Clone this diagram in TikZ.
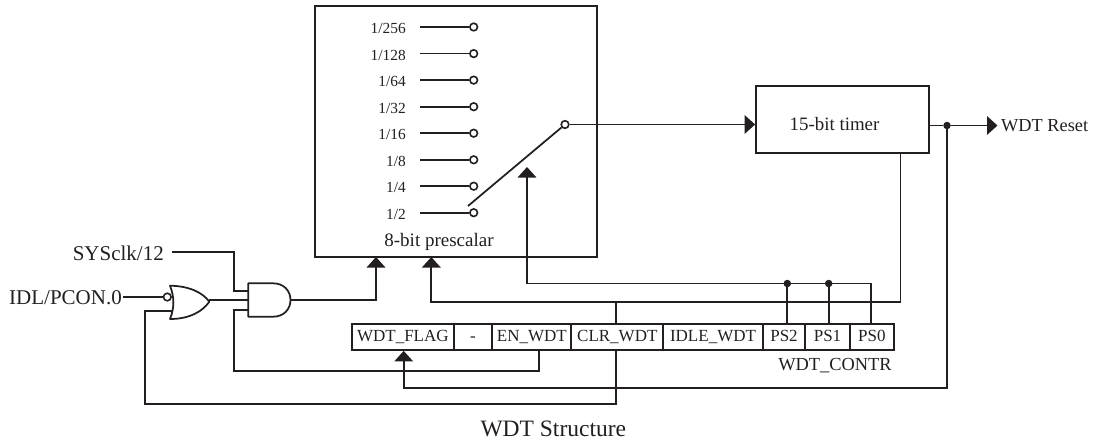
\documentclass[tikz,border=0pt]{standalone}
\usepackage{fontspec}
\setmainfont{Liberation Serif}
\usetikzlibrary{arrows.meta,calc}
\definecolor{ink}{HTML}{231F20}
\tikzset{
  wire/.style={draw=ink,line width=1.75pt,line join=miter},
  arrowwire/.style={wire,-{Triangle[width=18.5pt,length=10.5pt,fill=ink]}},
  boxframe/.style={draw=ink,line width=1.75pt,inner sep=0pt},
  cell/.style={draw=ink,line width=1.75pt,inner sep=0pt,minimum height=26pt,text height=9.4pt,text depth=0pt,text=ink,font=\fontsize{17}{17}\selectfont},
  lab/.style={anchor=base,text=ink,inner sep=0pt},
  ratio/.style={anchor=base east,text=ink,inner sep=0pt,font=\fontsize{15.4}{16}\selectfont},
  openpin/.style={circle,draw=ink,line width=1.6pt,fill=white,minimum size=7.6pt,inner sep=0pt},
  dotpin/.style={circle,fill=ink,minimum size=7.5pt,inner sep=0pt},
}
\begin{document}
\begin{tikzpicture}[x=1pt,y=-1pt]
\useasboundingbox (0,0) rectangle (1097,440);
% prescaler and timer
\node[boxframe,minimum width=282pt,minimum height=251pt] (pre) at (456,131.5) {};
\node[boxframe,minimum width=173pt,minimum height=67pt] (timer) at (842.5,119.5) {};
\node[lab,font=\fontsize{19}{20}\selectfont] (prelab) at (439,246.7) {8-bit prescalar};
\node[lab,font=\fontsize{18.9}{20}\selectfont] (timerlab) at (834.5,130.7) {15-bit timer};
% ratio rows
\foreach \n/\t/\y in {a/1\slash 256/27,b/1\slash 128/53.6,c/1\slash 64/80.1,d/1\slash 32/106.7,e/1\slash 16/133.2,f/1\slash 8/159.8,g/1\slash 4/186.2,h/1\slash 2/212.7}{
  \node[ratio] (r\n) at (406,\y+6.5) {\t};
  \coordinate (s\n) at (420,\y);
  \node[openpin] (p\n) at (473.7,\y) {};
  \draw[wire] (s\n) -- (p\n);
}
% switch
\node[openpin] (swout) at (565,124.5) {};
\coordinate (swin) at (468,206);
\draw[wire] (swin) -- (swout);
\draw[arrowwire] (swout) -- (timer.west |- swout);
% output
\node[dotpin] (j) at (947,125.5) {};
\node[lab,anchor=base west,font=\fontsize{18.3}{20}\selectfont] (resetlab) at (1001,131) {WDT Reset};
\coordinate (resetend) at (997.5,125.5);
\draw[wire] (timer.east |- j) -- (j);
\draw[arrowwire] (j) -- (resetend);
% register
\node[cell,minimum width=101.7pt] (flag) at (402.85,337) {WDT\_FLAG};
\node[cell,minimum width=38.6pt] (dash) at (473,337) {-};
\node[cell,minimum width=79pt] (en) at (531.8,337) {EN\_WDT};
\node[cell,minimum width=92pt] (clr) at (617.3,337) {CLR\_WDT};
\node[cell,minimum width=99.4pt] (idle) at (713,337) {IDLE\_WDT};
\node[cell,minimum width=42.6pt] (ps2) at (784,337) {PS2};
\node[cell,minimum width=44.4pt] (ps1) at (827.5,337) {PS1};
\node[cell,minimum width=44.3pt] (ps0) at (871.85,337) {PS0};
\node[lab,font=\fontsize{18.4}{20}\selectfont] (contr) at (835,370) {WDT\_CONTR};
\node[lab,font=\fontsize{23.5}{24}\selectfont] (title) at (553.3,436) {WDT Structure};
% gates
\coordinate (andA) at (248.3,283.3);
\coordinate (andB) at (248.3,316.7);
\coordinate (andOut) at (290.5,300);
\draw[wire,line join=round] (andA) -- (273,283.3) .. controls (284,283.3) and (290.5,291) .. (andOut) .. controls (290.5,309) and (284,316.7) .. (273,316.7) -- (andB) -- cycle;
\coordinate (orA) at (170,285.7);
\coordinate (orB) at (170,319);
\coordinate (orOut) at (209.3,301.7);
\draw[wire,line join=round] (orA) .. controls (190,286) and (203,293) .. (orOut) .. controls (203,311) and (190,319) .. (orB) .. controls (174.5,308) and (174.5,297) .. (orA) -- cycle;
\node[openpin] (bub) at (167.3,297) {};
% inputs
\node[lab,anchor=base east,font=\fontsize{21}{22}\selectfont] (sys) at (164,260) {SYSclk/12};
\node[lab,anchor=base east,font=\fontsize{21}{22}\selectfont] (idl) at (122,304) {IDL/PCON.0};
\coordinate (sysS) at (171.7,251.7);
\coordinate (sysT) at (234,251.7);
\coordinate (andI1) at (248.3,290.7);
\draw[wire] (sysS) -- (sysT) -- (sysT |- andI1) -- (andI1);
\coordinate (idlS) at (123.3,297);
\draw[wire] (idlS) -- (bub);
\draw[wire] (orOut |- andOut) -- (andA |- andOut);
% and output to prescaler
\coordinate (preA) at (376,257);
\draw[arrowwire] (andOut) -- (preA |- andOut) -- (preA);
% EN_WDT to AND
\coordinate (andI3) at (248.3,310);
\coordinate (enD) at (539,370.7);
\draw[wire] (enD |- en.south) -- (enD) -- (234,370.7) -- (234,310) -- (andI3);
% CLR_WDT to OR
\coordinate (clrD) at (616,403.7);
\coordinate (orI2) at (172.5,310.7);
\draw[wire] (clrD |- clr.south) -- (clrD) -- (145,403.7) -- (145,310.7) -- (orI2);
% reset feedback to flag
\coordinate (flagB) at (403.7,388);
\draw[arrowwire] (j) -- (j |- flagB) -- (flagB) -- (flagB |- flag.south);
% timer to prescaler
\coordinate (tm) at (900.5,302);
\coordinate (preB) at (431.3,257);
\draw[arrowwire] (tm |- timer.south) -- (tm) -- (preB |- tm) -- (preB);
\coordinate (clrT) at (616,302);
\draw[wire] (clrT) -- (clrT |- clr.north);
% PS bits to switch
\coordinate (psR) at (871,283.5);
\coordinate (swA) at (527,167);
\draw[arrowwire] (psR |- ps0.north) -- (psR) -- (swA |- psR) -- (swA);
\node[dotpin] (d2) at (787.3,283.5) {};
\node[dotpin] (d1) at (828.7,283.5) {};
\draw[wire] (d2) -- (d2 |- ps2.north);
\draw[wire] (d1) -- (d1 |- ps1.north);
\end{tikzpicture}
\end{document}
